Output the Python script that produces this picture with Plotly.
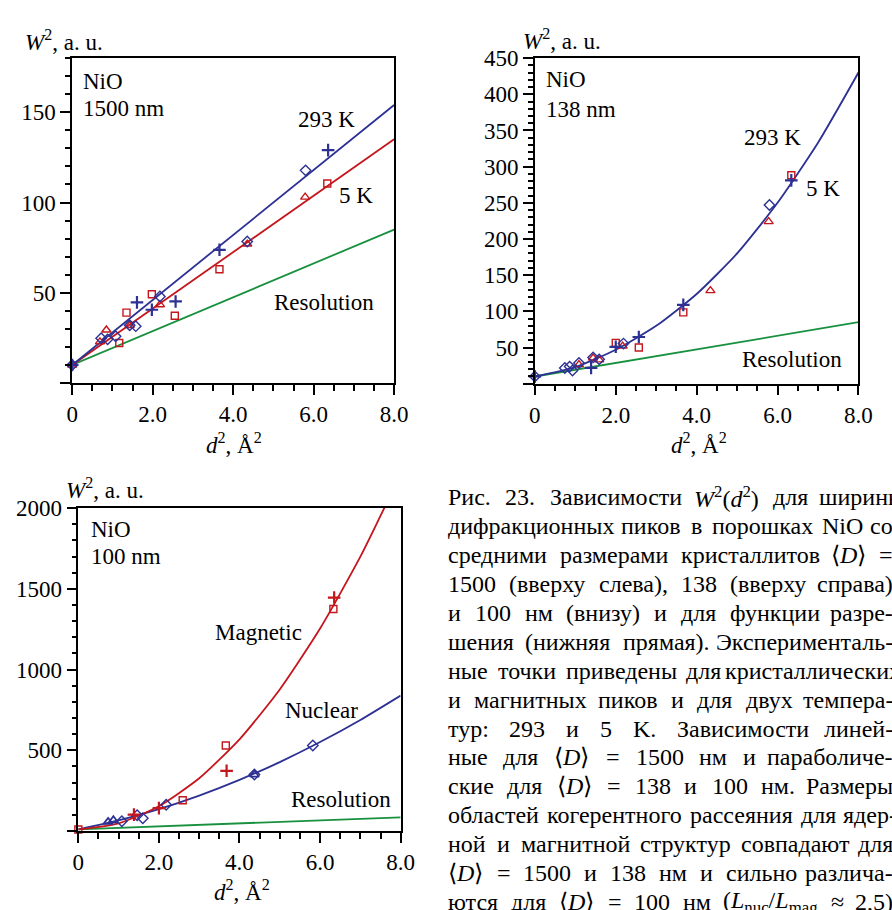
import re
import plotly.graph_objects as go

# ---------------- data ----------------
# Panel A: NiO, 1500 nm
a_plus293_x = [0, 1.61, 1.98, 2.57, 3.66, 6.36]
a_plus293_y = [10, 44.7, 40.6, 45.2, 73.8, 129]
a_diam293_x = [0, 0.72, 0.88, 1.08, 1.43, 1.58, 2.18, 4.35, 5.80]
a_diam293_y = [10, 24.8, 24.2, 25.9, 32.0, 31.5, 47.9, 78.4, 117.8]
a_sq5_x = [1.17, 1.35, 1.98, 2.55, 3.66, 6.34]
a_sq5_y = [22.2, 39.0, 49.2, 37.3, 63.0, 110.5]
a_tri5_x = [0, 0.69, 0.85, 1.43, 2.18, 4.35, 5.79]
a_tri5_y = [10, 22.8, 29.4, 31.9, 43.4, 77.0, 103.0]
a_fit293_x = [0, 8]
a_fit293_y = [10, 154]
a_fit5_x = [0, 8]
a_fit5_y = [10, 135]

# Panel B: NiO, 138 nm
b_plus_x = [0, 1.39, 2.00, 2.57, 3.67, 6.34]
b_plus_y = [10, 21.8, 51.0, 64.6, 109.0, 281.0]
b_diam_x = [0, 0.74, 0.86, 0.93, 1.09, 1.44, 1.59, 2.19, 5.80]
b_diam_y = [10, 21.8, 23.7, 18.3, 28.6, 36.4, 33.7, 55.5, 247.0]
b_sq_x = [2.00, 2.57, 3.67, 6.34]
b_sq_y = [56.4, 50.0, 98.6, 288.0]
b_tri_x = [1.09, 1.44, 1.59, 2.17, 4.34, 5.78]
b_tri_y = [26.4, 35.5, 33.0, 52.0, 128.6, 224.0]
b_fit_x = [0, 1, 2, 3, 4, 5, 6, 7, 8]
b_fit_y = [10, 23, 47, 80, 124, 180, 250, 333, 430]

# Panel C: NiO, 100 nm
c_sq_x = [0, 2.59, 3.66, 6.33]
c_sq_y = [10, 191, 530, 1375]
c_plus_x = [1.38, 2.00, 3.68, 6.35]
c_plus_y = [102, 142, 373, 1446]
c_diam_x = [1.08, 1.46, 1.60, 2.18, 4.37, 5.82]
c_diam_y = [61, 98, 79, 163, 350, 530]
c_tri_x = [0.74, 0.87, 4.37]
c_tri_y = [57, 67, 350]
c_mag_x = [0, 1, 2, 3, 4, 5, 6, 7, 8]
c_mag_y = [10, 48, 154, 327, 568, 877, 1254, 1699, 2212]
c_nuc_x = [0, 1, 2, 3, 4, 5, 6, 7, 8]
c_nuc_y = [10, 66, 136, 220, 317, 427, 551, 688, 839]

# Instrumental resolution (same for every sample)
res_x = [0, 8]
res_y = [10, 85]

x_tickvals = [0, 2, 4, 6, 8]
x_ticktext = ["0", "2.0", "4.0", "6.0", "8.0"]
a_ytickvals = [0, 50, 100, 150]
b_ytickvals = [0, 50, 100, 150, 200, 250, 300, 350, 400, 450]
c_ytickvals = [0, 500, 1000, 1500, 2000]

D = "⟨<i>D</i>⟩"
caption_words = [
    ["Рис.", "23.", "Зависимости", "<i>W</i><sup>2</sup>(<i>d</i><sup>2</sup>)", "для", "ширины"],
    ["дифракционных", "пиков", "в", "порошках", "NiO", "со"],
    ["средними", "размерами", "кристаллитов", D, "="],
    ["1500", "(вверху", "слева),", "138", "(вверху", "справа)"],
    ["и", "100", "нм", "(внизу)", "и", "для", "функции", "разре-"],
    ["шения", "(нижняя", "прямая).", "Эксперименталь-"],
    ["ные", "точки", "приведены", "для", "кристаллических"],
    ["и", "магнитных", "пиков", "и", "для", "двух", "темпера-"],
    ["тур:", "293", "и", "5", "K.", "Зависимости", "линей-"],
    ["ные", "для", D, "=", "1500", "нм", "и", "параболиче-"],
    ["ские", "для", D, "=", "138", "и", "100", "нм.", "Размеры"],
    ["областей", "когерентного", "рассеяния", "для", "ядер-"],
    ["ной", "и", "магнитной", "структур", "совпадают", "для"],
    [D, "=", "1500", "и", "138", "нм", "и", "сильно", "различа-"],
    ["ются", "для", D, "=", "100", "нм", "(<i>L</i><sub>nuc</sub>/<i>L</i><sub>mag</sub>", "≈", "2,5)"],
]

# ---------------- style ----------------
BLUE = "#2c3193"
RED = "#c4161c"
GREEN = "#18903e"
FONT = "Liberation Serif, Times New Roman, serif"
W, H = 892, 910
CAP_SIZE = 24
CAP_LEFT = 451                      # left margin of the caption column, px
# justified right edge of each caption line, px (the column runs past the page edge)
CAP_RIGHT = [920, 908, 908, 908, 908, 908, 917, 908, 908, 908, 908, 912, 908, 908, 908]
CAP_TOP = 491.7
CAP_LEAD = 29.3
MIN_GAP = 0.27 * CAP_SIZE

# approximate advance widths (1/1000 em) of the serif face, for justification
ADV = {
    "а": 444, "б": 509, "в": 472, "г": 410, "д": 509, "е": 444, "ж": 691, "з": 395, "и": 535,
    "й": 535, "к": 486, "л": 499, "м": 633, "н": 535, "о": 500, "п": 535, "р": 500, "с": 444,
    "т": 437, "у": 500, "ф": 648, "х": 500, "ц": 535, "ч": 503, "ш": 770, "щ": 770, "ъ": 517,
    "ы": 672, "ь": 456, "э": 429, "ю": 747, "я": 490,
    "Р": 556, "З": 500, "Э": 667, "N": 722, "O": 722, "K": 722, "L": 611, "W": 833, "D": 722,
    "i": 278, "d": 500, "n": 500, "u": 500, "c": 444, "m": 778, "a": 444, "g": 500,
    ".": 250, ",": 250, "(": 333, ")": 333, ":": 278, "-": 333, "=": 564, "≈": 549,
    "/": 278, "⟨": 390, "⟩": 390,
}


def text_width(html, size):
    """Rough rendered width in px of a short rich-text snippet."""
    width = 0.0
    scale = 1.0
    for tok in re.split(r"(<[^>]+>)", html):
        if tok.startswith("<"):
            if tok in ("<sup>", "<sub>"):
                scale = 0.7
            elif tok in ("</sup>", "</sub>"):
                scale = 1.0
            continue
        for ch in tok:
            width += ADV.get(ch, 500) * scale
    return width * size / 1000.0


fig = go.Figure()


def line(x, y, color, ax):
    fig.add_trace(go.Scatter(x=x, y=y, mode="lines",
                             line=dict(color=color, width=1.8, shape="spline", smoothing=0.6),
                             xaxis=ax[0], yaxis=ax[1], showlegend=False, hoverinfo="skip"))


def pts(x, y, color, symbol, size, ax, lw=1.4):
    fig.add_trace(go.Scatter(x=x, y=y, mode="markers", cliponaxis=False,
                             marker=dict(symbol=symbol, size=size, color=color,
                                         line=dict(color=color, width=lw)),
                             xaxis=ax[0], yaxis=ax[1], showlegend=False))


A = ("x", "y")
B = ("x2", "y2")
C = ("x3", "y3")

# Panel A
line(res_x, res_y, GREEN, A)
line(a_fit5_x, a_fit5_y, RED, A)
line(a_fit293_x, a_fit293_y, BLUE, A)
pts(a_sq5_x, a_sq5_y, RED, "square-open", 7, A)
pts(a_tri5_x, a_tri5_y, RED, "triangle-up-open", 8, A)
pts(a_diam293_x, a_diam293_y, BLUE, "diamond-open", 8, A)
pts(a_plus293_x, a_plus293_y, BLUE, "cross-thin", 9, A, lw=2.2)

# Panel B
line(res_x, res_y, GREEN, B)
line(b_fit_x, b_fit_y, BLUE, B)
pts(b_sq_x, b_sq_y, RED, "square-open", 7, B)
pts(b_tri_x, b_tri_y, RED, "triangle-up-open", 8, B)
pts(b_diam_x, b_diam_y, BLUE, "diamond-open", 8, B)
pts(b_plus_x, b_plus_y, BLUE, "cross-thin", 9, B, lw=2.2)

# Panel C
line(res_x, res_y, GREEN, C)
line(c_nuc_x, c_nuc_y, BLUE, C)
line(c_mag_x, c_mag_y, RED, C)
pts(c_tri_x, c_tri_y, BLUE, "triangle-up-open", 8, C, lw=1.8)
pts(c_diam_x, c_diam_y, BLUE, "diamond-open", 8, C)
pts(c_sq_x, c_sq_y, RED, "square-open", 7, C)
pts(c_plus_x, c_plus_y, RED, "cross-thin", 9, C, lw=2.2)


def xaxis(domain, anchor):
    return dict(domain=domain, anchor=anchor, range=[0, 8], showgrid=False, zeroline=False,
                showline=True, mirror=True, linecolor="black", linewidth=1.5,
                ticks="outside", ticklen=10, tickwidth=1.5, tickcolor="black",
                tickmode="array", tickvals=x_tickvals, ticktext=x_ticktext,
                minor=dict(ticks="outside", dtick=0.5, tick0=0, ticklen=6, tickwidth=1.5, tickcolor="black"),
                tickfont=dict(family=FONT, size=23, color="black"), fixedrange=True)


def yaxis(domain, anchor, rng, vals, mdt):
    return dict(domain=domain, anchor=anchor, range=rng, showgrid=False, zeroline=False,
                showline=True, mirror=True, linecolor="black", linewidth=1.5,
                ticks="outside", ticklen=10, tickwidth=1.5, tickcolor="black",
                tickmode="array", tickvals=vals, ticktext=[""] + [str(v) for v in vals[1:]],
                minor=dict(ticks="outside", dtick=mdt, tick0=0, ticklen=5, tickwidth=1.5, tickcolor="black"),
                tickfont=dict(family=FONT, size=23, color="black"), fixedrange=True)


def px(xp):
    return xp / W


def py(yp):
    return 1 - yp / H


fig.update_layout(
    width=W, height=H, margin=dict(l=0, r=0, t=0, b=0),
    paper_bgcolor="white", plot_bgcolor="white",
    font=dict(family=FONT, size=23, color="black"),
    xaxis=xaxis([px(67.7), px(397)], "y"),
    yaxis=yaxis([py(376), py(46.7)], "x", [0, 180], a_ytickvals, 10),
    xaxis2=xaxis([px(541), px(872)], "y2"),
    yaxis2=yaxis([py(376.7), py(46.7)], "x2", [0, 450], b_ytickvals, 10),
    xaxis3=xaxis([px(74), px(403.7)], "y3"),
    yaxis3=yaxis([py(830), py(502.7)], "x3", [0, 2000], c_ytickvals, 100),
)

ann = []


def label(text, x, y, xr, yr, xanchor="center", size=23):
    ann.append(dict(text=text, x=x, y=y, xref=xr, yref=yr, xanchor=xanchor, yanchor="middle",
                    showarrow=False, borderpad=0, font=dict(family=FONT, size=size, color="black")))


# in-plot labels
label("NiO", 0.24, 167.3, "x", "y", "left")
label("1500 nm", 0.24, 152.2, "x", "y", "left")
label("293 K", 6.32, 145.8, "x", "y")
label("5 K", 7.06, 104.0, "x", "y")
label("Resolution", 6.27, 44.7, "x", "y")

label("NiO", 0.25, 420.6, "x2", "y2", "left")
label("138 nm", 0.25, 379.6, "x2", "y2", "left")
label("293 K", 5.88, 339.6, "x2", "y2")
label("5 K", 7.13, 269.6, "x2", "y2")
label("Resolution", 6.36, 34.1, "x2", "y2")

label("NiO", 0.29, 1870, "x3", "y3", "left")
label("100 nm", 0.29, 1700, "x3", "y3", "left")
label("Magnetic", 4.47, 1232, "x3", "y3")
label("Nuclear", 6.03, 744, "x3", "y3")
label("Resolution", 6.51, 197, "x3", "y3")

# axis titles
ytitle = "<i>W</i><sup>2</sup>, a. u."
xtitle = "<i>d</i><sup>2</sup>, Å<sup>2</sup>"
label(ytitle, px(18.5), py(29), "paper", "paper", "left")
label(ytitle, px(528), py(28.3), "paper", "paper", "left")
label(ytitle, px(60), py(483.3), "paper", "paper", "left")
label(xtitle, px(233), py(437), "paper", "paper")
label(xtitle, px(709), py(437), "paper", "paper")
label(xtitle, px(241), py(890), "paper", "paper")

# caption, set word by word as a justified paragraph
for i, words in enumerate(caption_words):
    yline = py(CAP_TOP + CAP_LEAD * i)
    widths = [text_width(w, CAP_SIZE) for w in words]
    gaps = len(words) - 1
    gap = (CAP_RIGHT[i] - CAP_LEFT - sum(widths)) / gaps
    stretched = gap >= MIN_GAP
    gap = max(gap, MIN_GAP)
    xpos = CAP_LEFT
    for k, (w, wd) in enumerate(zip(words, widths)):
        if k == gaps and stretched:
            label(w, px(CAP_RIGHT[i]), yline, "paper", "paper", "right", size=CAP_SIZE)
        else:
            label(w, px(xpos), yline, "paper", "paper", "left", size=CAP_SIZE)
        xpos += wd + gap

fig.update_layout(annotations=ann)
fig.write_html("out.html")
